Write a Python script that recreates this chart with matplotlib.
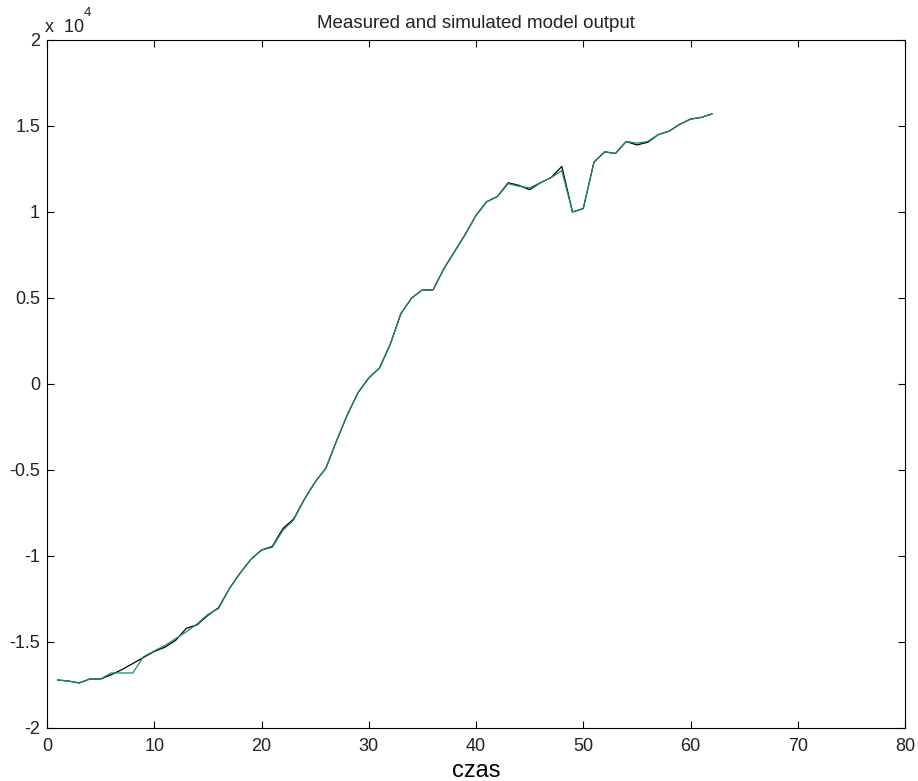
import matplotlib
matplotlib.use('Agg')
import matplotlib.pyplot as plt
import numpy as np

plt.rcParams['font.family'] = ['Liberation Sans', 'DejaVu Sans']

# time samples
czas = list(range(1, 63))

# measured output (black), units of 1e4
measured = [-1.721, -1.727, -1.738, -1.715, -1.715, -1.69, -1.66, -1.625, -1.59, -1.555,
            -1.53, -1.49, -1.42, -1.40, -1.345, -1.30, -1.19, -1.10, -1.02, -0.965,
            -0.945, -0.84, -0.785, -0.67, -0.57, -0.49, -0.33, -0.18, -0.05, 0.035,
            0.093, 0.23, 0.41, 0.50, 0.547, 0.547, 0.67, 0.77, 0.87, 0.98,
            1.06, 1.09, 1.17, 1.155, 1.13, 1.17, 1.20, 1.265, 1.00, 1.02,
            1.29, 1.35, 1.34, 1.41, 1.39, 1.405, 1.45, 1.47, 1.51, 1.54,
            1.55, 1.57]

# simulated output (green), units of 1e4
simulated = [-1.721, -1.727, -1.738, -1.715, -1.715, -1.68, -1.68, -1.68, -1.585, -1.552,
             -1.52, -1.48, -1.44, -1.395, -1.34, -1.305, -1.19, -1.10, -1.02, -0.965,
             -0.95, -0.85, -0.79, -0.67, -0.57, -0.49, -0.33, -0.18, -0.05, 0.035,
             0.093, 0.23, 0.41, 0.50, 0.547, 0.547, 0.67, 0.77, 0.87, 0.98,
             1.06, 1.09, 1.165, 1.15, 1.14, 1.17, 1.20, 1.24, 1.00, 1.02,
             1.29, 1.35, 1.34, 1.41, 1.40, 1.41, 1.45, 1.47, 1.51, 1.54,
             1.55, 1.57]

fig = plt.figure(figsize=(9.18, 7.81), dpi=100)
ax = fig.add_axes([47 / 918, 53 / 781, 858 / 918, 688 / 781])

ax.plot(czas, np.array(measured) * 1e4, color='black', linewidth=0.9)
ax.plot(czas, np.array(simulated) * 1e4, color='#1f8c52', linewidth=0.9)

ax.set_xlim(0, 80)
ax.set_ylim(-20000, 20000)
ax.set_xticks(range(0, 81, 10))
yt = np.arange(-2, 2.01, 0.5)
ax.set_yticks(yt * 1e4)
ax.set_yticklabels(['%g' % v for v in yt])

ax.tick_params(direction='in', top=True, right=True, length=5, width=0.8,
               labelsize=13, pad=5, labelcolor='#222222')
ax.tick_params(axis='x', pad=7)
for s in ax.spines.values():
    s.set_linewidth(0.8)

# exponent label, MATLAB style
ax.text(45 / 918, 1 - 32 / 781, 'x  10', transform=fig.transFigure, fontsize=13,
        ha='left', va='baseline', color='#222222')
ax.text(84 / 918, 1 - 16 / 781, '4', transform=fig.transFigure, fontsize=9.5,
        ha='left', va='baseline', color='#222222')

ax.set_title('Measured and simulated model output', fontsize=13.5, pad=9,
             color='#222222')
ax.set_xlabel('czas', fontsize=17, labelpad=4)

fig.savefig('out.png', dpi=100, facecolor='white')
